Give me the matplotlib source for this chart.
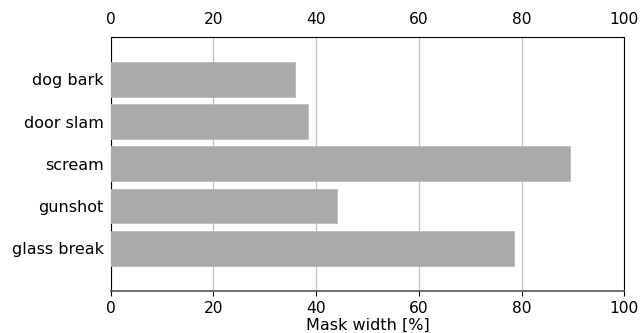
import matplotlib.pyplot as plt

plt.rcParams["font.family"] = ["DejaVu Sans"]

categories = ["dog bark", "door slam", "scream", "gunshot", "glass break"]
mask_width = [35.8, 38.5, 89.5, 44.0, 78.6]

BAR_COLOR = "#aaaaaa"

fig, ax = plt.subplots(figsize=(6.41, 3.33), dpi=100)

pos = list(range(len(categories)))
ax.barh(pos, mask_width, height=0.82, color=BAR_COLOR, edgecolor="#bbbbbb",
        linewidth=0.6, zorder=3)
ax.set_yticks(pos)
ax.set_yticklabels(categories, fontsize=11.5)
ax.set_ylim(5, -1)
ax.tick_params(axis="y", length=0, pad=5)

# x ticks labelled on both sides, tick marks only at the bottom
ax.set_xlim(0, 100)
ax.set_xticks(range(0, 101, 20))
ax.tick_params(axis="x", labelsize=11.2, top=True, labeltop=True, length=3.5, pad=4)
for t in ax.xaxis.get_major_ticks():
    t.tick2line.set_markersize(0)
ax.grid(axis="x", color="#bfbfbf", linewidth=0.9, zorder=0)
ax.set_axisbelow(True)
ax.spines["bottom"].set_color("#555555")
ax.spines["bottom"].set_linewidth(1.2)
ax.set_xlabel("Mask width [%]", fontsize=11.5, labelpad=1)

fig.subplots_adjust(left=0.1727, right=0.974, top=0.889, bottom=0.127)
fig.savefig("out.png", dpi=100)
